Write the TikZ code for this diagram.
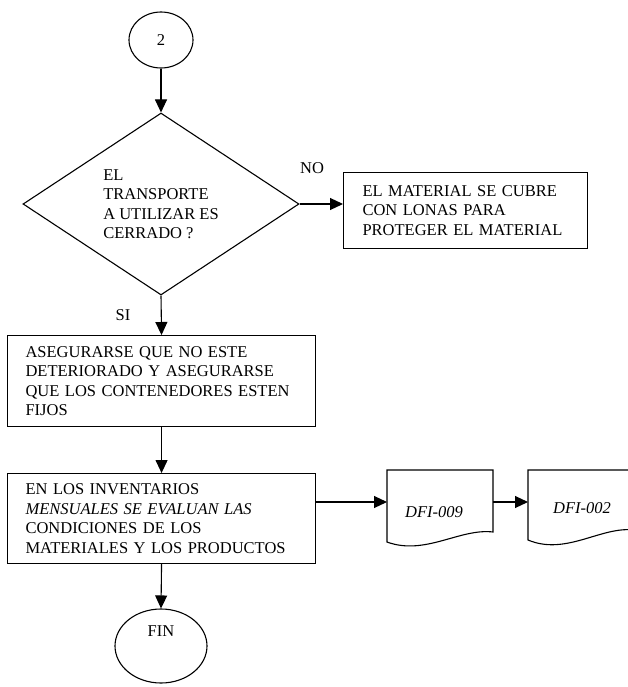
\documentclass[tikz,border=0pt]{standalone}
\usepackage{fontspec}
\setmainfont{Liberation Serif}
\usetikzlibrary{shapes.geometric,arrows.meta}
\begin{document}
\begin{tikzpicture}[x=1pt,y=-1pt,
  every node/.style={font=\fontsize{16.5}{19.5}\selectfont},
  line/.style={line width=1.1pt},
  flow/.style={line, -{Triangle[length=13pt,width=12pt]}},
  procbox/.style={draw, line width=1.1pt, rectangle, inner ysep=0pt,
    align=left, anchor=north west},
  terminal/.style={draw, line width=1.1pt, ellipse, inner sep=0pt},
  decision/.style={draw, line width=1.1pt, diamond, inner sep=0pt,
    aspect=1.516, align=left},
  doclabel/.style={font=\fontsize{16.5}{19.5}\selectfont\itshape}
]
\useasboundingbox (0,0) rectangle (628,687);
\clip (0,0) rectangle (628,687);

% connector and start
\node[terminal, minimum width=64pt, minimum height=56pt] (c2) at (161,40) {2};

% decision
\node[decision, minimum width=276pt, minimum height=182pt] (dia) at (161,204)
  {EL\\TRANSPORTE\\A UTILIZAR ES\\CERRADO ?};

% branch NO
\node[procbox, minimum width=244pt, minimum height=76pt, text width=206pt,
  inner xsep=19pt] (b1) at (343,172)
  {EL MATERIAL SE CUBRE\\CON LONAS PARA\\PROTEGER EL MATERIAL};

% branch SI
\node[procbox, minimum width=308pt, minimum height=91pt, text width=272pt,
  inner xsep=18pt] (b2) at (7,335)
  {ASEGURARSE QUE NO ESTE\\DETERIORADO Y ASEGURARSE\\QUE LOS CONTENEDORES ESTEN\\FIJOS};

\node[procbox, minimum width=308pt, minimum height=90pt, text width=272pt,
  inner xsep=18pt] (b3) at (7,473)
  {EN LOS INVENTARIOS\\\textit{MENSUALES SE EVALUAN LAS}\\CONDICIONES DE LOS\\MATERIALES Y LOS PRODUCTOS};

% end
\node[terminal, minimum width=92pt, minimum height=74pt] (fin) at (161,646) {};
\node (fintext) at (161,631) {FIN};

% documents
\draw[line] (387,470) -- (493,470) -- (493,532)
  .. controls (460,528) and (425,556) .. (387,542) -- cycle;
\coordinate (d1w) at (387,502);
\coordinate (d1e) at (493,502);
\node[doclabel] (d1) at (434,512) {DFI-009};

\draw[line] (528,470) -- (634,470) -- (634,530)
  .. controls (601,526) and (566,556) .. (528,540) -- cycle;
\coordinate (d2w) at (528,502);
\node[doclabel] (d2) at (582,508) {DFI-002};

% labels
\node (no) at (312,168) {NO};
\node (si) at (123,315) {SI};

% connectors
\draw[flow] (c2.south) -- (dia.north);
\draw[flow] (dia.east) -- (dia.east -| b1.west);
\draw[flow] (dia.south) -- (b2.north);
\draw[flow] (b2.south) -- (b3.north);
\draw[flow] (b3.south) -- (fin.north);
\draw[flow] (b3.east |- d1w) -- (d1w);
\draw[flow] (d1e) -- (d2w);
\end{tikzpicture}
\end{document}
